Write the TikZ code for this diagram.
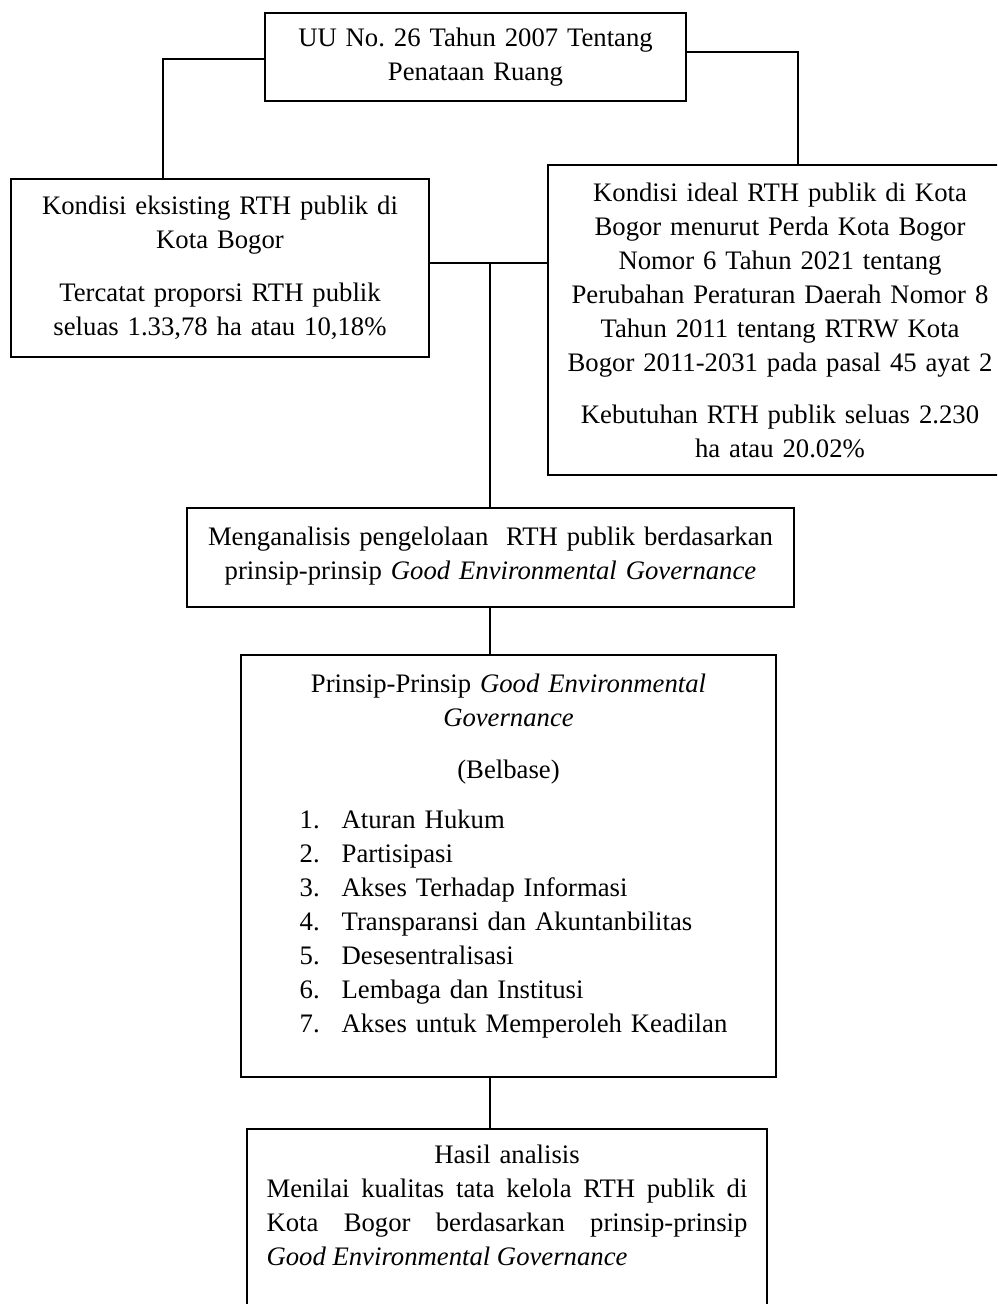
\documentclass[tikz,border=0pt]{standalone}
\usepackage{fontspec}
\setmainfont{Liberation Serif}
\usepackage{tikz}
\usetikzlibrary{calc}
\tikzset{box/.style={draw, line width=0.9pt, align=center, inner sep=2pt},
    link/.style={line width=0.8pt}
}
\frenchspacing
\newcommand{\fullline}[1]{\leavevmode\hbox to 9.62cm{\spaceskip=0.25em plus 3em\relax #1}}

\begin{document}
\begin{tikzpicture}[x=0.02cm, y=-0.02cm, font=\fontsize{15.2}{19.35}\selectfont]
\path[use as bounding box] (0,0) rectangle (997,1304);
\clip (0,0) rectangle (997,1304);

%0
\node[box, minimum width=8.42cm, minimum height=1.76cm, text width=8cm] (uu) at (475.5,57)
    {UU No. 26 Tahun 2007 Tentang\\ Penataan Ruang};

%1
\node[box, minimum width=8.36cm, minimum height=3.56cm, text width=8cm] (eksis) at (220,268)
    {Kondisi eksisting RTH publik di\\ Kota Bogor\\[0.38cm]
     Tercatat proporsi RTH publik\\ seluas 1.33,78 ha atau 10,18\%};
\node[box, minimum width=9.28cm, minimum height=6.2cm, text width=9cm] (ideal) at (780,320)
    {Kondisi ideal RTH publik di Kota\\ Bogor menurut Perda Kota Bogor\\
     Nomor 6 Tahun 2021 tentang\\ Perubahan Peraturan Daerah Nomor 8\\
     Tahun 2011 tentang RTRW Kota\\ Bogor 2011-2031 pada pasal 45 ayat 2\\[0.36cm]
     Kebutuhan RTH publik seluas 2.230\\ ha atau 20.02\%};

%2
\node[box, minimum width=12.14cm, minimum height=1.98cm, text width=11.8cm] (anls) at (490.5,557.5)
    {Menganalisis pengelolaan~\ RTH publik berdasarkan\\
     prinsip-prinsip \textit{Good Environmental Governance}\rule[-0.16cm]{0pt}{0.16cm}};

%3
\node[box, minimum width=10.7cm, minimum height=8.44cm, text width=10.3cm] (prinsip) at (508.5,866)
    {Prinsip-Prinsip \textit{Good Environmental}\\ \textit{Governance}\\[0.36cm]
     (Belbase)\\[0.32cm]
     \hspace*{0.2cm}\begin{tabular}[t]{@{}l@{\hspace{0.44cm}}l@{}}
     1. & Aturan Hukum\\
     2. & Partisipasi\\
     3. & Akses Terhadap Informasi\\
     4. & Transparansi dan Akuntanbilitas\\
     5. & Desesentralisasi\\
     6. & Lembaga dan Institusi\\
     7. & Akses untuk Memperoleh Keadilan\rule[-0.52cm]{0pt}{0.52cm}
     \end{tabular}};

%4
\node[box, anchor=north, inner xsep=0.39cm, inner ysep=0.33cm, text width=9.62cm] (hasil) at (507,1128)
    {Hasil analisis\\
     \fullline{Menilai kualitas tata kelola RTH publik di}\\
     \fullline{Kota Bogor berdasarkan prinsip-prinsip}\\
     \fullline{\textit{Good Environmental Governance}\hfill\rule[-4cm]{0pt}{4cm}}};

% lines
\coordinate (hub) at (490,263);
\draw[link] ($(uu.west)+(0,2)$) -| ($(eksis.north)+(-57,0)$);
\draw[link] ($(uu.east)+(0,-5)$) -| ($(ideal.north)+(18,0)$);
\draw[link] (hub -| eksis.east) -- (hub -| ideal.west);
\draw[link] (hub) -- (hub |- anls.north);
\draw[link] (anls.south -| hub) -- (prinsip.north -| hub);
\draw[link] (prinsip.south -| hub) -- (hasil.north -| hub);

\end{tikzpicture}
\end{document}
